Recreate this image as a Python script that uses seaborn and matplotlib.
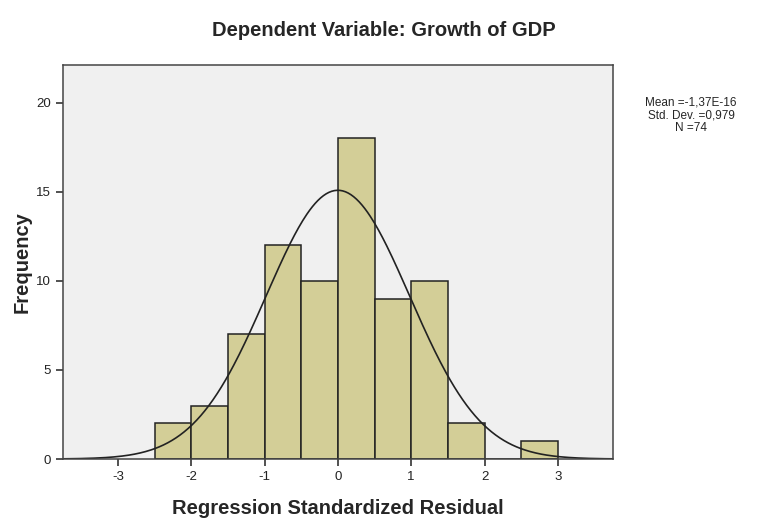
import numpy as np
import pandas as pd
import matplotlib
matplotlib.use("Agg")
import matplotlib.pyplot as plt
import seaborn as sns

# histogram of regression standardized residuals (SPSS style)
bin_edges = [-2.5, -2.0, -1.5, -1.0, -0.5, 0.0, 0.5, 1.0, 1.5, 2.0, 2.5, 3.0]
bin_centers = [-2.25, -1.75, -1.25, -0.75, -0.25, 0.25, 0.75, 1.25, 1.75, 2.25, 2.75]
counts = [2, 3, 7, 12, 10, 18, 9, 10, 2, 0, 1]

mean = -1.37e-16
std_dev = 0.979
n_obs = 74

sns.set_style("white")
plt.rcParams['font.family'] = ['Liberation Sans', 'DejaVu Sans']
plt.rcParams['axes.unicode_minus'] = False

df = pd.DataFrame({'resid': bin_centers, 'freq': counts})

fig = plt.figure(figsize=(7.67, 5.21), dpi=100)
ax = fig.add_axes([0.082, 0.119, 0.717, 0.756])
ax.set_facecolor('#f0f0f0')

sns.histplot(data=df, x='resid', weights='freq', bins=bin_edges, ax=ax,
             color='#d3ce97', alpha=1, edgecolor='#222222', linewidth=1.1)

# normal curve scaled to counts
xs = np.linspace(-3.75, 3.75, 400)
bw = 0.5
ys = n_obs * bw / (std_dev * np.sqrt(2 * np.pi)) * np.exp(-0.5 * ((xs - mean) / std_dev) ** 2)
sns.lineplot(x=xs, y=ys, ax=ax, color='#222222', linewidth=1.2)

ax.set_xlim(-3.75, 3.75)
ax.set_ylim(0, 22.1)
ax.set_xticks([-3, -2, -1, 0, 1, 2, 3])
ax.set_yticks([0, 5, 10, 15, 20])
ax.tick_params(axis='both', direction='out', length=5, width=1.2, color='#333333',
               labelsize=9.5, labelcolor='#222222', bottom=True, left=True)
for s in ax.spines.values():
    s.set_color('#444444')
    s.set_linewidth(1.1)

ax.set_xlabel('Regression Standardized Residual', fontsize=14.5, fontweight='bold', labelpad=12)
ax.set_ylabel('Frequency', fontsize=14.5, fontweight='bold', labelpad=3)
fig.text(0.5, 0.942, 'Dependent Variable: Growth of GDP', ha='center', va='center',
         fontsize=14.5, fontweight='bold')

fig.text(0.901, 0.743, 'Mean =-1,37E-16\nStd. Dev. =0,979\nN =74', ha='center', va='bottom',
         fontsize=8.5, linespacing=1.05)

plt.savefig('out.png', dpi=100)
